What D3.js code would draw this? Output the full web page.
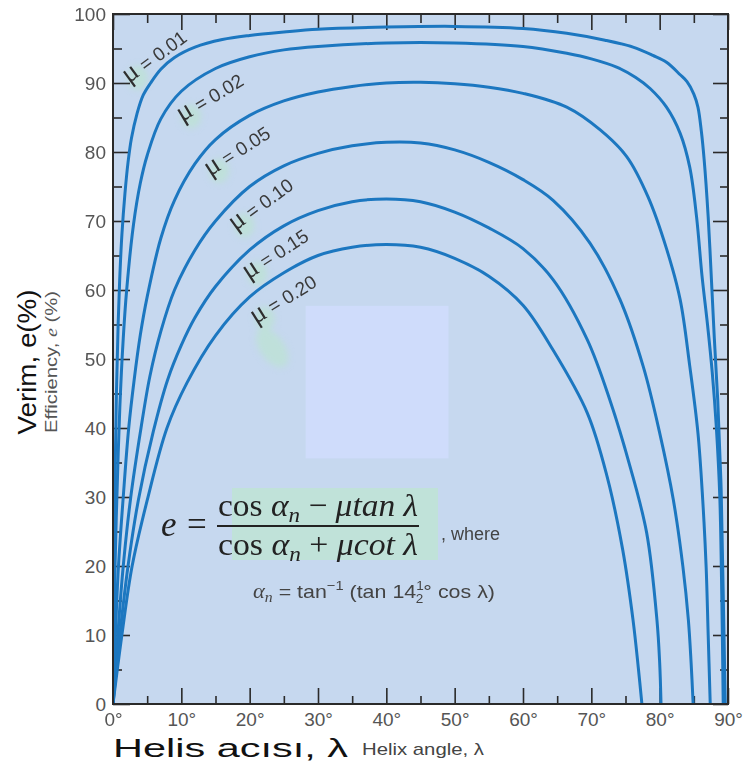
<!DOCTYPE html>
<html>
<head>
<meta charset="utf-8">
<script src="https://cdn.jsdelivr.net/npm/d3@7/dist/d3.min.js"></script>
<style>
  body { margin: 0; background: #ffffff; }
  svg { display: block; }
</style>
</head>
<body>
<svg id="chart" width="747" height="763"></svg>
<script>
const width = 747
const height = 763

// Data: [helix angle (deg), efficiency (%)]
const mu001 = [[0,0],[0.15,20],[0.3,32],[0.5,45],[0.75,55],[1,62],[1.3,68],[1.75,74],[2.2,78.5],[2.7,82],[3.5,85.5],[4.4,88.2],[5.5,90],[7,92],[9,93.7],[12,95.2],[16,96.3],[20,96.9],[25,97.4],[30,97.8],[40,98.1],[50,98.2],[60,97.9],[66.4,97.2],[72,96.2],[76.1,95.2],[79,94],[81,93],[83,91.2],[84,90.2],[85,88.4],[85.6,86.5],[86.1,83],[86.5,79],[87.1,70.6],[87.6,61],[88,53],[88.5,44],[89,31],[89.3,16],[89.6,0]]
const mu002 = [[0,0],[0.3,20],[0.6,31],[1,43],[1.5,53],[2,60],[3,69.5],[4,75.5],[5,79.5],[7,84.8],[10,88.8],[15,92.1],[20,93.8],[25,94.8],[30,95.3],[40,95.8],[50,95.8],[60,95.3],[66.4,94.3],[70,93.5],[73.7,92.3],[76.5,90.8],[78.6,89.2],[81,86.5],[83,82.7],[84.4,77.8],[85.4,70.6],[86.2,62],[87,55],[87.7,48],[88.3,40],[88.8,30],[89.1,15],[89.3,0]]
const mu005 = [[0,0],[0.35,10],[0.8,20],[1.5,30],[2.3,40],[3.1,47],[4,53.5],[5,59],[7,67.5],[9,73],[12,78.3],[15,81.8],[20,85.3],[25,87.4],[30,88.7],[35,89.5],[40,90],[45,90.1],[50,89.9],[55,89.4],[60,88.5],[66.4,86.5],[71.3,83.2],[75.2,79.3],[78.3,73.5],[81,66],[83,58.6],[84.4,49],[85.6,39.3],[86.3,29.6],[86.8,19.9],[87.1,10],[87.4,0]]
const mu010 = [[0,0],[0.7,10],[1.5,20],[2.6,30],[4.1,40],[5.4,47.5],[7,54],[9,60],[12,65.8],[15,70],[20,75],[25,78],[30,79.8],[35,80.9],[40,81.4],[45,81.3],[50,80.3],[55,78.5],[60,76],[64.4,73],[69.8,66.8],[74.2,58.6],[77.6,48.9],[80,39.3],[82,29.6],[83.4,19.9],[84.2,12.2],[84.6,6],[84.9,0]]
const mu015 = [[0,0],[1,10],[2.2,20],[3.7,29.5],[5.9,39.5],[8,47],[10,52],[12,56],[15,60.5],[20,65.8],[25,69.3],[30,71.5],[35,72.8],[40,73.2],[45,72.8],[50,71.3],[55,69],[60,66],[64.4,61.5],[69.4,52.8],[72.7,44.1],[75.7,34.3],[78.1,24.8],[79.6,12.2],[80,6],[80.2,0]]
const mu020 = [[0,0],[1.3,10],[2.8,20],[5,29.5],[7.9,40],[10.8,46.5],[15,53.4],[20,59],[25,62.5],[30,65],[35,66.2],[40,66.6],[45,66.2],[50,64.6],[55,62],[60,57.8],[64.4,51.3],[69.4,42.2],[72.3,33],[74.6,22.3],[76.1,12.2],[76.9,5],[77.4,0]]

const muValues = ["0.01", "0.02", "0.05", "0.10", "0.15", "0.20"]
const curves = [mu001, mu002, mu005, mu010, mu015, mu020]

const xTickValues = d3.range(0, 91, 10)
const yTickValues = d3.range(0, 101, 10)

// Layout
const plot = { left: 113, right: 728, top: 14, bottom: 704 }
const plotColor = "#c6d8ef"
const lineColor = "#1c77c0"
const frameColor = "#2a2a2a"
const tickTextColor = "#555555"
const mintColor = "#bde2d6"
const sans = "'Liberation Sans', Arial, sans-serif"
const serif = "'Liberation Serif', 'DejaVu Serif', serif"

// label anchors in data units [angle, efficiency, rotation]
const labelSpots = [[2.3, 89.9, -36], [10.1, 84.3, -31], [14.2, 76.4, -33], [17.9, 68.5, -36], [19.8, 61.5, -33], [20.9, 55.0, -32]]

const svg = d3.select("#chart")

const x = d3.scaleLinear().domain([0, 90]).range([plot.left, plot.right])
const y = d3.scaleLinear().domain([0, 100]).range([plot.bottom, plot.top])

const defs = svg.append("defs")
defs.append("clipPath").attr("id", "plotClip")
    .append("rect")
    .attr("x", plot.left).attr("y", plot.top)
    .attr("width", plot.right - plot.left).attr("height", plot.bottom - plot.top)
defs.append("filter").attr("id", "soft")
    .attr("x", "-50%").attr("y", "-50%").attr("width", "200%").attr("height", "200%")
    .append("feGaussianBlur").attr("stdDeviation", 3)

// plot background
svg.append("rect")
    .attr("x", plot.left).attr("y", plot.top)
    .attr("width", plot.right - plot.left).attr("height", plot.bottom - plot.top)
    .attr("fill", plotColor)

// pale patch in the middle of the chart
svg.append("rect")
    .attr("x", x(28.2)).attr("y", y(57.7))
    .attr("width", x(49.1) - x(28.2)).attr("height", y(35.6) - y(57.7))
    .attr("fill", "#cfdcfb")

// mint highlights behind the mu symbols
const blobs = svg.append("g").attr("filter", "url(#soft)")
labelSpots.forEach(s => {
    blobs.append("ellipse")
        .attr("cx", x(s[0]) + 9).attr("cy", y(s[1]) - 6)
        .attr("rx", 10).attr("ry", 12)
        .attr("fill", mintColor)
        .attr("opacity", 0.85)
})
blobs.append("ellipse")
    .attr("cx", x(23.3)).attr("cy", y(51.6))
    .attr("rx", 12).attr("ry", 22)
    .attr("transform", `rotate(-35, ${x(23.3)}, ${y(51.6)})`)
    .attr("fill", mintColor)
    .attr("opacity", 0.85)

// formula highlight box
svg.append("rect")
    .attr("x", 232).attr("y", 488)
    .attr("width", 206).attr("height", 72)
    .attr("fill", "#c0e2d9")

// axes (ticks inside the frame)
function tickStyle(g) {
    g.select(".domain").remove()
    g.selectAll(".tick line").attr("stroke", frameColor).attr("stroke-width", 1.6)
    g.selectAll(".tick text")
        .attr("fill", tickTextColor)
        .style("font-family", sans)
        .style("font-size", "19px")
}

svg.append("g")
    .attr("transform", `translate(${plot.left},0)`)
    .call(d3.axisLeft(y).tickValues(d3.range(5, 100, 10)).tickSizeInner(-9).tickSizeOuter(0).tickFormat(""))
    .call(tickStyle)
svg.append("g")
    .attr("transform", `translate(${plot.left},0)`)
    .call(d3.axisLeft(y).tickValues(yTickValues).tickSizeInner(-17).tickSizeOuter(0).tickPadding(7))
    .call(tickStyle)

svg.append("g")
    .attr("transform", `translate(${plot.right},0)`)
    .call(d3.axisRight(y).tickValues(d3.range(5, 100, 10)).tickSizeInner(-8).tickSizeOuter(0).tickFormat(""))
    .call(tickStyle)
svg.append("g")
    .attr("transform", `translate(${plot.right},0)`)
    .call(d3.axisRight(y).tickValues(yTickValues).tickSizeInner(-15).tickSizeOuter(0).tickFormat(""))
    .call(tickStyle)

svg.append("g")
    .attr("transform", `translate(0,${plot.bottom})`)
    .call(d3.axisBottom(x).tickValues(d3.range(5, 90, 10)).tickSizeInner(-8).tickSizeOuter(0).tickFormat(""))
    .call(tickStyle)
svg.append("g")
    .attr("transform", `translate(0,${plot.bottom})`)
    .call(d3.axisBottom(x).tickValues(xTickValues).tickSizeInner(-16).tickSizeOuter(0).tickPadding(9).tickFormat(d => d + "°"))
    .call(tickStyle)

svg.append("g")
    .attr("transform", `translate(0,${plot.top})`)
    .call(d3.axisTop(x).tickValues(d3.range(5, 90, 10)).tickSizeInner(-9).tickSizeOuter(0).tickFormat(""))
    .call(tickStyle)
svg.append("g")
    .attr("transform", `translate(0,${plot.top})`)
    .call(d3.axisTop(x).tickValues(xTickValues).tickSizeInner(-16).tickSizeOuter(0).tickFormat(""))
    .call(tickStyle)

// curves
const line = d3.line()
    .x(d => x(d[0]))
    .y(d => y(d[1]))
    .curve(d3.curveCatmullRom.alpha(0.5))

svg.append("g")
    .attr("clip-path", "url(#plotClip)")
    .selectAll("path")
    .data(curves)
    .join("path")
    .attr("d", line)
    .attr("fill", "none")
    .attr("stroke", lineColor)
    .attr("stroke-width", 3)
    .attr("stroke-linejoin", "round")

// frame
svg.append("rect")
    .attr("x", plot.left).attr("y", plot.top)
    .attr("width", plot.right - plot.left).attr("height", plot.bottom - plot.top)
    .attr("fill", "none")
    .attr("stroke", frameColor)
    .attr("stroke-width", 2)

// mu labels along the curves
labelSpots.forEach((s, i) => {
    const px = x(s[0]), py = y(s[1])
    const t = svg.append("text")
        .attr("transform", `translate(${px},${py}) rotate(${s[2]})`)
        .attr("fill", "#2e2e2e")
    t.append("tspan")
        .style("font-family", serif)
        .style("font-size", "28px")
        .text("μ")
    t.append("tspan")
        .style("font-family", sans)
        .style("font-size", "19px")
        .attr("fill", "#3a3a3a")
        .text(" = " + muValues[i])
})

// formula
svg.append("text")
    .attr("x", 161).attr("y", 536)
    .style("font-family", serif).style("font-size", "35px").style("font-style", "italic")
    .attr("fill", "#222")
    .text("e")
svg.append("text")
    .attr("x", 187).attr("y", 536)
    .style("font-family", serif).style("font-size", "35px")
    .attr("fill", "#222")
    .text("=")

function fractionRow(yPos, op, fn) {
    const t = svg.append("text")
        .attr("x", 218).attr("y", yPos)
        .attr("textLength", 200).attr("lengthAdjust", "spacingAndGlyphs")
        .style("font-family", serif).style("font-size", "32px")
        .attr("fill", "#222")
    t.append("tspan").text("cos ")
    t.append("tspan").style("font-style", "italic").text("α")
    t.append("tspan").style("font-style", "italic").style("font-size", "22px").attr("dy", 6).text("n")
    t.append("tspan").attr("dy", -6).text(" " + op + " ")
    t.append("tspan").style("font-style", "italic").text("μ" + fn + " λ")
}
fractionRow(516, "−", "tan")
fractionRow(555, "+", "cot")
svg.append("line")
    .attr("x1", 217).attr("x2", 419)
    .attr("y1", 526).attr("y2", 526)
    .attr("stroke", "#222").attr("stroke-width", 2)

svg.append("text")
    .attr("x", 441).attr("y", 540)
    .style("font-family", sans).style("font-size", "18px")
    .attr("fill", "#444")
    .text(", where")

const def = svg.append("text")
    .attr("x", 253).attr("y", 598)
    .attr("textLength", 242).attr("lengthAdjust", "spacingAndGlyphs")
    .style("font-family", sans).style("font-size", "19px")
    .attr("fill", "#444")
def.append("tspan").style("font-family", serif).style("font-style", "italic").style("font-size", "20px").text("α")
def.append("tspan").style("font-family", serif).style("font-style", "italic").style("font-size", "14px").attr("dy", 4).text("n")
def.append("tspan").attr("dy", -4).text(" = tan")
def.append("tspan").style("font-size", "13px").attr("dy", -8).text("−1")
def.append("tspan").attr("dy", 8).text(" (tan 14")
def.append("tspan").style("font-size", "12px").attr("dy", -8).text("1")
def.append("tspan").style("font-size", "12px").attr("dx", -7).attr("dy", 13).text("2")
def.append("tspan").attr("dy", -5).text("° cos λ)")

// axis titles
svg.append("text")
    .attr("transform", "translate(36,362) rotate(-90)")
    .attr("text-anchor", "middle")
    .attr("textLength", 145).attr("lengthAdjust", "spacingAndGlyphs")
    .style("font-family", sans).style("font-size", "26px")
    .attr("fill", "#111")
    .text("Verim, e(%)")
const effTitle = svg.append("text")
    .attr("transform", "translate(57,362) rotate(-90)")
    .attr("text-anchor", "middle")
    .attr("textLength", 142).attr("lengthAdjust", "spacingAndGlyphs")
    .style("font-family", sans).style("font-size", "16px")
    .attr("fill", "#555")
effTitle.append("tspan").text("Efficiency, ")
effTitle.append("tspan").style("font-family", serif).style("font-style", "italic").text("e")
effTitle.append("tspan").text(" (%)")

svg.append("text")
    .attr("x", 113).attr("y", 757)
    .attr("textLength", 235).attr("lengthAdjust", "spacingAndGlyphs")
    .style("font-family", sans).style("font-size", "26px")
    .attr("fill", "#111")
    .text("Helis acısı, λ")
svg.append("text")
    .attr("x", 362).attr("y", 755)
    .attr("textLength", 122).attr("lengthAdjust", "spacingAndGlyphs")
    .style("font-family", sans).style("font-size", "17px")
    .attr("fill", "#444")
    .text("Helix angle, λ")
</script>
</body>
</html>
